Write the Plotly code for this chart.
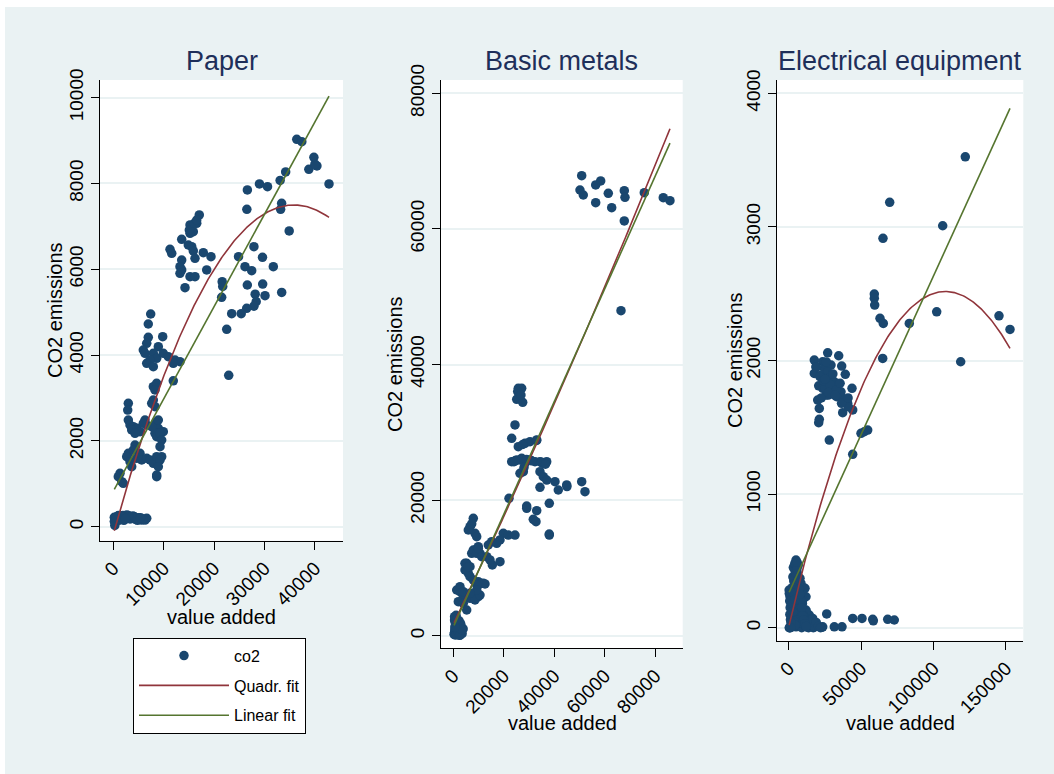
import numpy as np
import plotly.graph_objects as go

# ---- Paper: value added vs CO2 emissions ----
paper_va = [
    36400, 37400, 39800, 40400, 38800, 42800, 34200, 33100, 29000, 30600, 26600, 26500,
    33400, 33200, 34900, 27900, 29600, 31750, 24850, 26130, 27460, 26590, 29640, 28150, 30100,
    28350, 27900, 26470, 25380, 23490, 33410, 21600, 21710, 21500, 22500, 22900, 40000,
    17060, 16550, 15220, 15870, 15220, 13570, 15560, 14880, 11250, 11590, 15870, 16210,
    17860, 19380, 13570, 13230, 13570, 13230, 15220, 16210, 18530, 14230, 15080, 16070, 16550,
    7420, 6940, 6940, 6630, 5950, 6290, 9800, 8930, 7940, 8610, 7280, 6630, 7940,
    9920, 10910, 12240, 13230, 11900, 11900, 7940, 8600, 8270, 7940, 8270, 7620,
    2980, 2860, 2980, 3310, 3970, 4640, 3650, 5300, 4310, 6630, 6290, 8610, 8930, 8270, 8610,
    9920, 5950, 7620, 8930, 9270, 9600, 9270, 9600, 8610,
    4310, 3970, 2980, 2660, 3310, 3650, 4640, 5300, 5630, 6630, 7280, 7940, 8610, 9270, 8930, 8610,
    1330, 990, 1670, 1980,
    300, 200, 330, 990, 1300, 1670, 2000, 2660, 3000, 3650, 4000, 4640, 5630, 6290, 6630,
    500, 800, 1100, 1500, 1900, 2300, 2800, 3300, 3900, 4400, 5000, 5900,
    200, 650, 1000, 1300, 1700, 2100, 2500, 3100, 3600, 4200, 4800, 5400,
    400, 1400, 3000, 600, 2400,
]
paper_co2 = [
    9030, 8975, 8610, 8408, 8331, 7990, 8270, 8070, 7990, 7926, 7849, 7398,
    7538, 7398, 6893, 6527, 6280, 6061, 6294, 6061, 5968, 5634, 5655, 5420, 5385,
    5245, 5140, 5091, 4966, 4966, 5460, 5711, 5600, 5347, 4601, 3529, 8450,
    7266, 7072, 7033, 6877, 6839, 6699, 6527, 6566, 6466, 6373, 6427, 6256,
    6387, 6294, 6216, 6061, 5984, 5907, 5828, 5828, 5984, 5571, 6916, 7072, 7149,
    4958, 4725, 4415, 4275, 4119, 4042, 4430, 4196, 4042, 3925, 3886, 3809, 3730,
    4042, 3963, 3886, 3846, 3809, 3400, 3264, 3342, 3187, 2953, 2797, 2876,
    2876, 2720, 2487, 2371, 2331, 2294, 2254, 2214, 2177, 2371, 2487, 2448, 2294, 2177, 2098,
    2214, 2410, 2331, 2487, 2177, 2021, 1865, 1632, 1166,
    1904, 1788, 1711, 1632, 1515, 1399, 1594, 1711, 1555, 1594, 1555, 1478, 1632, 1555, 1399, 1205,
    1245, 1166, 1049, 1012,
    30, 220, 156, 196, 250, 233, 200, 273, 230, 233, 210, 196, 156, 156, 196,
    180, 240, 150, 200, 260, 170, 220, 180, 250, 170, 210, 180,
    120, 200, 260, 180, 230, 150, 250, 200, 190, 230, 150, 210,
    200, 240, 260, 220, 190,
]

# ---- Basic metals ----
metals_va = [
    50850, 50170, 51480, 56390, 58370, 61380, 56390, 62730, 67720, 67990, 67720, 75640, 83160, 85810, 66410,
    25740, 27080, 25110, 27480, 24430, 23130, 25740, 28390, 30370, 33030,
    23130, 25110, 27090, 28390, 27730, 30370, 34330, 35640, 36990, 34330, 35640, 36990,
    24040, 26410, 32350, 35010, 26410, 34330,
    25500, 26800, 27500, 29000, 31000, 33000, 35000, 36500, 24500, 28000,
    40270, 41580, 44910, 50850, 52150, 22060, 29070, 29070, 33030, 31680, 32750, 38020, 38020,
    38000, 45000,
    19800, 21780, 24430, 15210, 13860, 18490, 17190, 15450, 18490,
    7920, 6610, 8590, 5940, 9270, 7300,
    9900, 8590, 10570, 7290, 7920, 9270, 9900, 11250,
    13230, 14530, 11880, 9900, 12550, 9900,
    5310, 6610, 5940, 4630, 4630, 5940, 6610,
    7920, 9270, 9900, 6610, 8590, 9270, 10570, 9270,
    2650, 3960, 1980, 3960, 5310, 1350, 2650, 3960, 6610,
    500, 1350, 670, 1980, 2650, 670, 1350, 2650, 1980, 1000, 2300, 500,
    800, 1200, 1600, 2000, 2400, 900, 1500, 2100, 2700, 1100,
    300, 700, 1100, 1500, 1900, 2300, 2700, 3100, 3500, 3900,
    500, 900, 1300, 1700, 2100, 2500, 2900, 3300, 600, 1400,
]
metals_co2 = [
    67850, 65740, 65000, 66480, 67070, 65250, 63870, 63130, 65640, 64660, 61170, 65340, 64610, 64160, 47940,
    36490, 36490, 34870, 34430, 31080, 29110, 27880, 28380, 28620, 28870,
    25670, 25920, 26170, 25430, 24190, 25920, 25670, 25430, 25670, 24190, 23450, 22960,
    25670, 25920, 25670, 25520, 23950, 21890,
    36000, 35500, 28200, 26000, 25800, 28800, 25600, 25300, 25800, 24800,
    22720, 21490, 22230, 22720, 21240, 20270, 19130, 18790, 18440, 17170, 16820, 19530, 14850,
    15000, 22000,
    15100, 14850, 14850, 13870, 13380, 14120, 13630, 10430, 10920,
    17320, 16080, 15100, 15590, 14600, 16500,
    13130, 12640, 12150, 12150, 12640, 12150, 12890, 11650,
    11650, 11170, 7730, 7480, 7630, 7970,
    10680, 10180, 9200, 9690, 10680, 10180, 8700,
    8220, 6250, 5750, 5520, 5270, 7480, 6000, 6740,
    6490, 5750, 5020, 4780, 3790, 6740, 7230, 6490, 6250,
    2320, 1580, 840, 350, 100, 2070, 840, 350, 1330, 1200, 700, 500,
    500, 1500, 900, 300, 1100, 2500, 200, 1800, 700, 3000,
    200, 900, 1600, 400, 1200, 2200, 600, 1400, 300, 1000,
    2800, 100, 2000, 700, 1500, 50, 1800, 900, 1300, 2400,
]

# ---- Electrical equipment ----
elec_va = [
    121960, 69750, 106350, 65120, 59120, 59120, 59390, 63050, 65330, 83290, 102210, 145230, 152830, 118780, 64920,
    26930, 34530, 17680, 23480, 18850, 24590, 29210, 36600, 39090, 17680, 22310, 26930, 29210, 31490,
    20720, 23480, 28040, 25760, 33840, 36120, 39570, 36120, 43720, 40740, 44200, 37290,
    20030, 21130, 21130, 20720, 28040, 44200, 49930, 52210, 54560,
    25070, 27350, 30800, 33150, 41160,
    19000, 21500, 24000, 26000, 28500, 30500, 33000, 35500, 38000, 22500, 27500, 32000, 36500, 41000, 25000,
    5040, 5520, 4560, 3870, 6220, 5040, 8490, 10770, 11950, 9670, 7320, 400, 900, 300,
    2760, 5040, 7320, 1590, 11950, 14230, 16570, 400, 5040, 9670, 14230, 18850, 23480, 26240,
    31490, 36810, 44200, 50620, 58010, 58430, 68370, 72930, 12430, 8980, 2070, 7800, 5520,
    3180, 8980, 4350, 2070, 6630, 5520, 6630, 7800, 11260, 10080, 12430, 16990, 22790,
    1000, 1500, 2000, 2500, 3000, 3500, 4000, 4500, 5000, 5500, 6000, 6500, 7000, 7500, 8000,
    8500, 9000, 9500, 10000, 11000, 12000, 13000, 14000, 3200, 4200, 5200, 6200, 7200, 2200, 1200,
    600, 1800, 2700, 3700, 4700, 5700, 6700, 7700, 8700, 9700, 10700, 11700, 12700, 13700, 15000,
    16000, 17500, 19000, 20500, 22000, 700, 2900, 4900, 5900, 6900, 7900, 8900, 3400, 4400, 5400,
    800, 1600, 2400, 3300, 4100, 4900, 5700, 6500, 7300, 8100, 8900, 9700, 10500, 11300, 12100,
    1300, 2800, 4300, 5800, 7700,
]
elec_co2 = [
    3525, 3184, 3009, 2915, 2498, 2466, 2415, 2316, 2278, 2278, 2365, 2335, 2233, 1991, 2016,
    2058, 2036, 2004, 1991, 1954, 1942, 1966, 1959, 1897, 1904, 1891, 1916, 1879, 1841,
    1811, 1792, 1779, 1742, 1766, 1729, 1704, 1766, 1792, 1680, 1630, 1610,
    1704, 1642, 1560, 1535, 1405, 1298, 1455, 1467, 1480,
    1792, 1742, 1817, 1729, 1654,
    1950, 1880, 1850, 1990, 1820, 1900, 1780, 1830, 1700, 1720, 1760, 1740, 1680, 1720, 1860,
    507, 469, 432, 382, 357, 320, 332, 295, 232, 207, 232, 257, 232, 282,
    157, 120, 108, 95, 132, 95, 70, 0, 7, 33, 20, 33, 7, 103,
    7, 7, 70, 70, 63, 52, 63, 58, 7, 0, 7, 207, 182,
    157, 132, 108, 82, 58, 33, 469, 370, 295, 132, 108, 0, 3,
    150, 250, 80, 300, 200, 350, 120, 420, 250, 380, 180, 300, 90, 220, 150,
    260, 60, 180, 100, 40, 120, 20, 60, 450, 480, 320, 280, 150, 20, 60,
    0, 30, 220, 100, 300, 60, 240, 40, 120, 30, 80, 10, 50, 0, 20,
    60, 5, 40, 10, 0, 200, 380, 470, 410, 330, 270, 200, 50, 20, 160,
    100, 40, 180, 260, 330, 400, 440, 360, 290, 200, 150, 90, 60, 30, 10,
    0, 120, 210, 490, 250,
]

panel_titles = ["Paper", "Basic metals", "Electrical equipment"]
x_ticks = [[0, 10000, 20000, 30000, 40000],
           [0, 20000, 40000, 60000, 80000],
           [0, 50000, 100000, 150000]]
y_ticks = [[0, 2000, 4000, 6000, 8000, 10000],
           [0, 20000, 40000, 60000, 80000],
           [0, 1000, 2000, 3000, 4000]]
x_ranges = [[-2640, 45575], [-4990, 90851], [-8287, 162017]]
y_ranges = [[-326, 10412], [-1858, 81962], [-97, 4100]]

W, H = 1054, 774
# plot-area boxes in pixels: left, right, top, bottom
boxes = [(100, 343, 80, 540.7), (440.7, 682.7, 80, 648.3), (776.7, 1023.3, 80, 640.7)]

MARKER = "#1a476f"
QUAD = "#90353b"
LIN = "#55752f"
BG = "#eaf2f3"
FONT = "Liberation Sans, Arial, Helvetica, sans-serif"

datasets = [(paper_va, paper_co2), (metals_va, metals_co2), (elec_va, elec_co2)]

fig = go.Figure()
for i, (xv, yv) in enumerate(datasets):
    xa = "x" if i == 0 else f"x{i + 1}"
    ya = "y" if i == 0 else f"y{i + 1}"
    xv = np.asarray(xv, float)
    yv = np.asarray(yv, float)
    # least-squares quadratic and linear fits over the observed range
    xs = np.linspace(xv.min(), xv.max(), 200)
    quad = np.polyval(np.polyfit(xv, yv, 2), xs)
    lin = np.polyval(np.polyfit(xv, yv, 1), xs)
    first = i == 0
    fig.add_trace(go.Scatter(x=xv, y=yv, mode="markers", name="co2", legendgroup="a",
                             showlegend=first, xaxis=xa, yaxis=ya,
                             marker=dict(color=MARKER, size=9.5, line=dict(width=0))))
    fig.add_trace(go.Scatter(x=xs, y=quad, mode="lines", name="Quadr. fit", legendgroup="b",
                             showlegend=first, xaxis=xa, yaxis=ya,
                             line=dict(color=QUAD, width=1.6)))
    fig.add_trace(go.Scatter(x=xs, y=lin, mode="lines", name="Linear fit", legendgroup="c",
                             showlegend=first, xaxis=xa, yaxis=ya,
                             line=dict(color=LIN, width=1.6)))

layout = dict(
    width=W, height=H,
    margin=dict(l=0, r=0, t=0, b=0, autoexpand=False),
    paper_bgcolor=BG, plot_bgcolor="white",
    font=dict(family=FONT, color="black"),
    showlegend=True,
    legend=dict(x=133 / W, y=1 - 637.7 / H, xanchor="left", yanchor="top",
                bgcolor="white", bordercolor="black", borderwidth=1,
                font=dict(size=16, color="black"), tracegroupgap=6, itemwidth=90),
)

annotations = []
for i, (l, r, t, b) in enumerate(boxes):
    sfx = "" if i == 0 else str(i + 1)
    layout["xaxis" + sfx] = dict(
        domain=[l / W, r / W], anchor="y" + sfx, range=x_ranges[i],
        tickmode="array", tickvals=x_ticks[i], ticktext=[str(v) for v in x_ticks[i]],
        tickangle=-45, ticks="outside", ticklen=8, tickcolor="black", tickwidth=1,
        showline=True, linecolor="black", linewidth=1, showgrid=False, zeroline=False,
        tickfont=dict(size=19, color="black"),
    )
    layout["yaxis" + sfx] = dict(
        domain=[1 - b / H, 1 - t / H], anchor="x" + sfx, range=y_ranges[i],
        tickmode="array", tickvals=y_ticks[i], ticktext=[str(v) for v in y_ticks[i]],
        tickangle=-90, ticks="outside", ticklen=8, tickcolor="black", tickwidth=1,
        showline=True, linecolor="black", linewidth=1,
        showgrid=True, gridcolor=BG, gridwidth=1.5, zeroline=False,
        tickfont=dict(size=19, color="black"),
    )
    cx = (l + r) / 2 / W
    annotations.append(dict(text=panel_titles[i], x=cx, y=1 - 78 / H, xref="paper", yref="paper",
                            xanchor="center", yanchor="bottom", showarrow=False,
                            font=dict(size=27, color="#1e2f5a")))

# axis titles
ytitle_pos = [(55, 310), (395, 364), (735, 360)]
xtitle_pos = [(221.5, 617), (562, 723), (900, 723)]
for px, py in ytitle_pos:
    annotations.append(dict(text="CO2 emissions", x=px / W, y=1 - py / H, xref="paper", yref="paper",
                            xanchor="center", yanchor="middle", textangle=-90, showarrow=False,
                            font=dict(size=20, color="black")))
for px, py in xtitle_pos:
    annotations.append(dict(text="value added", x=px / W, y=1 - py / H, xref="paper", yref="paper",
                            xanchor="center", yanchor="middle", showarrow=False,
                            font=dict(size=20, color="black")))
layout["annotations"] = annotations

# thin white frame on the top and left edges
layout["shapes"] = [
    dict(type="rect", xref="paper", yref="paper", x0=0, x1=5 / W, y0=0, y1=1,
         fillcolor="white", line=dict(width=0), layer="below"),
    dict(type="rect", xref="paper", yref="paper", x0=0, x1=1, y0=1 - 7 / H, y1=1,
         fillcolor="white", line=dict(width=0), layer="below"),
]

fig.update_layout(**layout)
fig.write_html("out.html")
